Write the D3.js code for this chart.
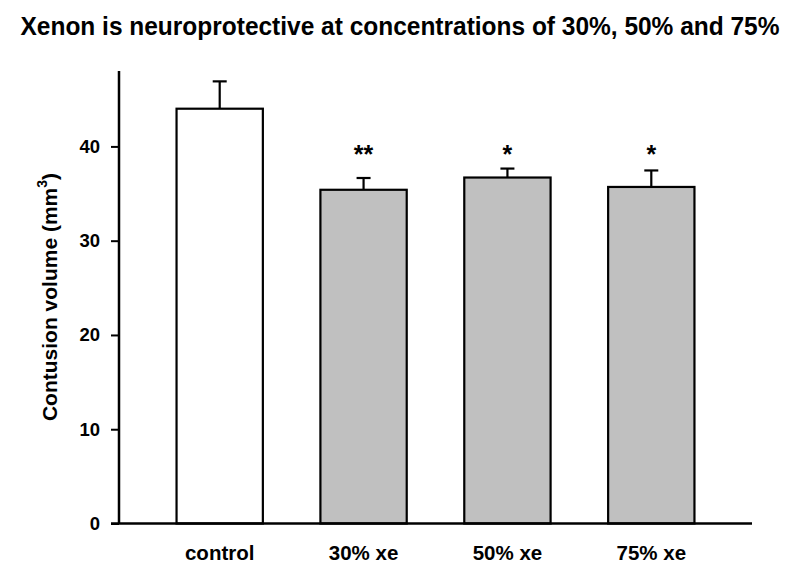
<!DOCTYPE html>
<html>
<head>
<meta charset="utf-8">
<script src="https://cdn.jsdelivr.net/npm/d3@7"></script>
<style>
  html, body { margin: 0; padding: 0; background: #fff; }
  svg { display: block; }
  text { font-family: "Liberation Sans", Arial, sans-serif; font-weight: bold; fill: #000; }
</style>
</head>
<body>
<script>
const categories = ["control", "30% xe", "50% xe", "75% xe"];
const means = [44.0, 35.4, 36.7, 35.7];
const errors = [2.9, 1.25, 0.95, 1.75];
const significance = ["", "**", "*", "*"];
const starLevel = 38.2;
const yTicks = [0, 10, 20, 30, 40];
const fills = ["#ffffff", "#c0c0c0", "#c0c0c0", "#c0c0c0"];
const titleText = "Xenon is neuroprotective at concentrations of 30%, 50% and 75%";

const W = 800, H = 574;
const svg = d3.select("body").append("svg").attr("width", W).attr("height", H);

const x = d3.scaleBand().domain(categories).range([119, 752]).paddingInner(0.4).paddingOuter(0.4);
const y = d3.scaleLinear().domain([0, 48]).range([523.5, 71]);

// title
svg.append("text")
  .attr("x", 400).attr("y", 35)
  .attr("text-anchor", "middle")
  .attr("font-size", 25)
  .attr("textLength", 759).attr("lengthAdjust", "spacingAndGlyphs")
  .text(titleText);

// bars
const data = categories.map((c, i) => ({c, m: means[i], e: errors[i], s: significance[i], f: fills[i]}));

svg.selectAll("rect.bar").data(data).enter().append("rect")
  .attr("class", "bar")
  .attr("x", d => x(d.c))
  .attr("y", d => y(d.m))
  .attr("width", x.bandwidth())
  .attr("height", d => y(0) - y(d.m))
  .attr("fill", d => d.f)
  .attr("stroke", "#000")
  .attr("stroke-width", 2.2);

// error bars
const cap = 14;
const eg = svg.append("g").attr("stroke", "#000").attr("stroke-width", 2.2);
data.forEach(d => {
  const cx = x(d.c) + x.bandwidth() / 2;
  eg.append("line").attr("x1", cx).attr("x2", cx).attr("y1", y(d.m)).attr("y2", y(d.m + d.e));
  eg.append("line").attr("x1", cx - cap / 2).attr("x2", cx + cap / 2).attr("y1", y(d.m + d.e)).attr("y2", y(d.m + d.e));
});

// significance
svg.selectAll("text.sig").data(data).enter().append("text")
  .attr("class", "sig")
  .attr("x", d => x(d.c) + x.bandwidth() / 2)
  .attr("y", y(starLevel))
  .attr("text-anchor", "middle")
  .attr("font-size", 25)
  .text(d => d.s);

// y axis
const yAxis = d3.axisLeft(y).tickValues(yTicks).tickSize(8).tickPadding(11).tickFormat(d3.format("d"));
const gy = svg.append("g").attr("transform", "translate(119,0)").call(yAxis);
gy.select(".domain").remove();
gy.selectAll(".tick line").attr("stroke", "#000").attr("stroke-width", 2);
gy.selectAll(".tick text").attr("font-size", 18.5).attr("font-family", "Liberation Sans, Arial, sans-serif").attr("font-weight", "bold").attr("fill", "#000");
svg.append("line").attr("x1", 119).attr("x2", 119).attr("y1", y(48)).attr("y2", y(0))
  .attr("stroke", "#000").attr("stroke-width", 2.5);

// x axis
const xAxis = d3.axisBottom(x).tickSize(0).tickPadding(22);
const gx = svg.append("g").attr("transform", `translate(0,${y(0)})`).call(xAxis);
gx.select(".domain").remove();
gx.selectAll(".tick text").attr("font-size", 20.5).attr("font-family", "Liberation Sans, Arial, sans-serif").attr("font-weight", "bold").attr("fill", "#000");
svg.append("line").attr("x1", 111).attr("x2", 752).attr("y1", y(0)).attr("y2", y(0))
  .attr("stroke", "#000").attr("stroke-width", 2.5);

// y title
const yt = svg.append("text")
  .attr("transform", "translate(57,297) rotate(-90)")
  .attr("text-anchor", "middle")
  .attr("font-size", 21);
yt.append("tspan").text("Contusion volume (mm");
yt.append("tspan").attr("font-size", 14).attr("dy", -10).text("3");
yt.append("tspan").attr("dy", 10).text(")");
</script>
</body>
</html>
